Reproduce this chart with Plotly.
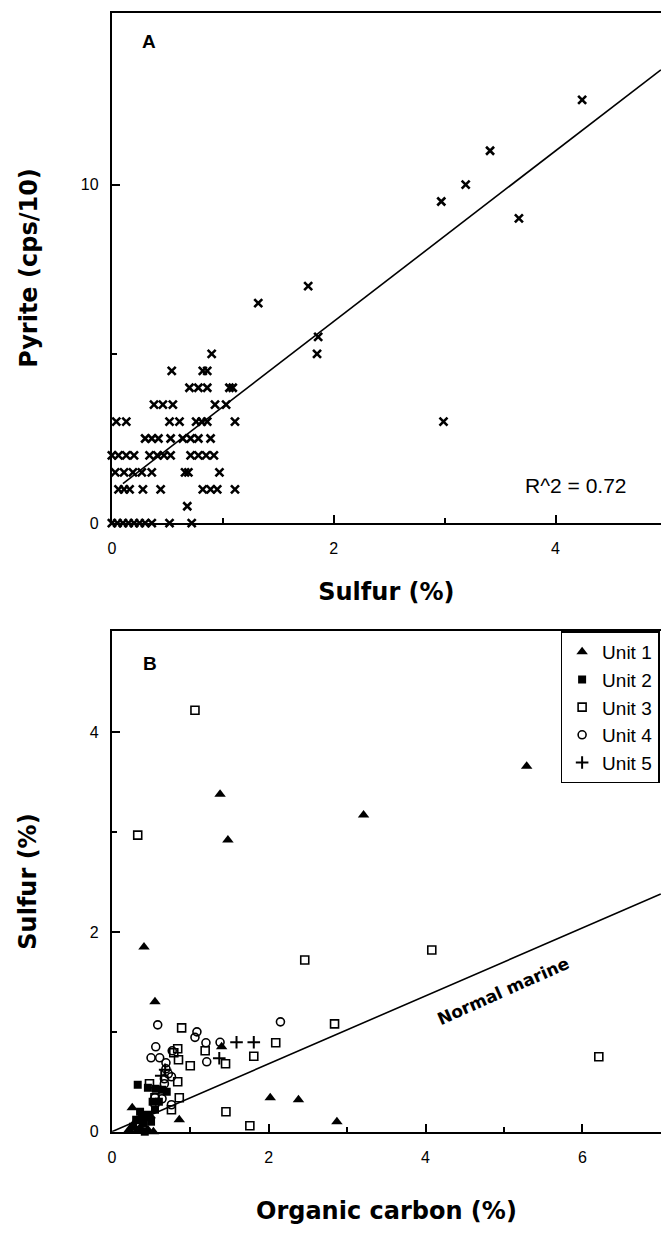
import plotly.graph_objects as go

W, H = 661, 1236
FONT = "Liberation Sans, Arial, Helvetica, sans-serif"
TITLE_FONT = "DejaVu Sans, Liberation Sans, sans-serif"

# ---------------- Panel A data: pyrite vs sulfur ----------------
sulfur_a = [4.24, 3.41, 3.19, 2.97, 3.67, 1.77, 1.32, 1.86, 1.85, 2.99,
            0.90,
            0.54, 0.82, 0.86,
            0.70, 0.78, 0.86, 1.06, 1.09,
            0.38, 0.46, 0.55, 0.93, 1.03,
            0.04, 0.13, 0.52, 0.61, 0.76, 0.81, 0.86, 1.11,
            0.30, 0.36, 0.42, 0.53, 0.64, 0.71, 0.78, 0.89,
            0.00, 0.06, 0.13, 0.20, 0.34, 0.41, 0.47, 0.53, 0.71, 0.78, 0.85, 0.92,
            0.03, 0.11, 0.19, 0.27, 0.36, 0.66, 0.69, 0.97,
            0.06, 0.11, 0.16, 0.28, 0.44, 0.82, 0.89, 0.95, 1.11,
            0.68,
            0.00, 0.05, 0.10, 0.15, 0.20, 0.25, 0.30, 0.36, 0.52, 0.72]
pyrite_a = [12.5, 11.0, 10.0, 9.5, 9.0, 7.0, 6.5, 5.5, 5.0, 3.0,
            5.0,
            4.5, 4.5, 4.5,
            4.0, 4.0, 4.0, 4.0, 4.0,
            3.5, 3.5, 3.5, 3.5, 3.5,
            3.0, 3.0, 3.0, 3.0, 3.0, 3.0, 3.0, 3.0,
            2.5, 2.5, 2.5, 2.5, 2.5, 2.5, 2.5, 2.5,
            2.0, 2.0, 2.0, 2.0, 2.0, 2.0, 2.0, 2.0, 2.0, 2.0, 2.0, 2.0,
            1.5, 1.5, 1.5, 1.5, 1.5, 1.5, 1.5, 1.5,
            1.0, 1.0, 1.0, 1.0, 1.0, 1.0, 1.0, 1.0, 1.0,
            0.5,
            0.0, 0.0, 0.0, 0.0, 0.0, 0.0, 0.0, 0.0, 0.0, 0.0]
fit_sulfur = [0.10, 4.95]
fit_pyrite = [1.17, 13.39]
r2_label = "R^2 = 0.72"

# ---------------- Panel B data: sulfur vs organic carbon ----------------
unit1_c = [0.41, 0.55, 1.38, 1.48, 3.21, 5.29, 1.40, 2.02, 2.38, 2.87, 0.86, 0.26, 0.53, 0.30, 0.36, 0.42, 0.46, 0.22, 0.49]
unit1_s = [1.85, 1.30, 3.38, 2.92, 3.17, 3.66, 0.85, 0.34, 0.32, 0.10, 0.12, 0.24, 0.00, 0.10, 0.04, 0.13, 0.02, 0.02, 0.16]

unit2_c = [0.33, 0.46, 0.56, 0.64, 0.70, 0.27, 0.31, 0.36, 0.40, 0.45, 0.50, 0.55, 0.33, 0.42, 0.60, 0.52, 0.38]
unit2_s = [0.47, 0.44, 0.43, 0.42, 0.40, 0.05, 0.12, 0.20, 0.08, 0.17, 0.10, 0.22, 0.02, 0.00, 0.30, 0.30, 0.14]

unit3_c = [1.06, 0.33, 2.46, 4.08, 2.84, 6.21, 0.89, 2.09, 1.81, 1.45, 1.19, 1.00, 0.84, 0.85, 0.48, 0.84, 0.86, 0.76, 1.455, 1.76, 0.55, 0.79]
unit3_s = [4.22, 2.97, 1.72, 1.82, 1.08, 0.75, 1.04, 0.89, 0.755, 0.68, 0.81, 0.66, 0.83, 0.72, 0.48, 0.50, 0.34, 0.22, 0.20, 0.06, 0.34, 0.79]

unit4_c = [0.585, 2.15, 1.085, 1.06, 1.20, 1.38, 1.21, 0.56, 0.50, 0.61, 0.69, 0.69, 0.77, 0.67, 0.76, 0.67, 0.55, 0.64, 0.55, 0.76, 0.72]
unit4_s = [1.07, 1.10, 1.00, 0.945, 0.89, 0.895, 0.70, 0.85, 0.74, 0.74, 0.69, 0.63, 0.81, 0.53, 0.55, 0.48, 0.34, 0.33, 0.27, 0.27, 0.58]

unit5_c = [1.59, 1.81, 1.37, 0.68, 0.63]
unit5_s = [0.895, 0.895, 0.735, 0.62, 0.56]

marine_c = [0.0, 7.0]
marine_s = [0.0, 2.38]

unit_names = ["Unit 1", "Unit 2", "Unit 3", "Unit 4", "Unit 5"]

# ---------------- layout geometry (pixels -> paper) ----------------
def px_x(p):
    return p / W

def px_y(p):
    return 1 - p / H

left_px = 108.5
a_top, a_bot = 13, 527
b_top, b_bot = 636, 1140

fig = go.Figure()

# Panel A
fig.add_trace(go.Scatter(
    x=sulfur_a, y=pyrite_a, mode="markers", xaxis="x", yaxis="y",
    marker=dict(symbol="x-thin", size=8, color="black", line=dict(width=2.6, color="black")),
    showlegend=False, cliponaxis=False))
fig.add_trace(go.Scatter(
    x=fit_sulfur, y=fit_pyrite, mode="lines", xaxis="x", yaxis="y",
    line=dict(color="black", width=1.6), showlegend=False))

# Panel B
fig.add_trace(go.Scatter(
    x=marine_c, y=marine_s, mode="lines", xaxis="x2", yaxis="y2",
    line=dict(color="black", width=1.6), showlegend=False))

styles = [
    dict(symbol="triangle-up", size=10, color="black", line=dict(width=0)),
    dict(symbol="square", size=8, color="black", line=dict(width=0)),
    dict(symbol="square-open", size=8, color="black", line=dict(width=1.6, color="black")),
    dict(symbol="circle-open", size=8, color="black", line=dict(width=1.6, color="black")),
    dict(symbol="cross-thin", size=9, color="black", line=dict(width=2, color="black")),
]
series = [(unit1_c, unit1_s), (unit2_c, unit2_s), (unit3_c, unit3_s), (unit4_c, unit4_s), (unit5_c, unit5_s)]
for name, (cx, sy), st in zip(unit_names, series, styles):
    fig.add_trace(go.Scatter(
        x=cx, y=sy, mode="markers", name=name, xaxis="x2", yaxis="y2",
        marker=st, cliponaxis=False))

axis_common = dict(
    showline=True, linecolor="black", linewidth=2,
    ticks="inside", ticklen=8, tickwidth=1.5, tickcolor="black",
    showgrid=False, zeroline=False,
    tickfont=dict(family=FONT, size=16, color="black"),
)
title_font = dict(family=TITLE_FONT, size=24, color="black", weight="bold")
minor_common = dict(ticks="inside", ticklen=5, tickwidth=1.5, tickcolor="black")

fig.update_layout(
    width=W, height=H,
    margin=dict(l=0, r=0, t=0, b=0),
    paper_bgcolor="white", plot_bgcolor="white",
    font=dict(family=FONT, color="black"),
    xaxis=dict(axis_common, domain=[px_x(left_px), 1.0], range=[0, 4.951], anchor="y",
               mirror=True, tickvals=[0, 2, 4], ticklabelstandoff=10,
               minor=dict(minor_common, tickvals=[1, 3]),
               title=dict(text="Sulfur (%)", font=title_font, standoff=27)),
    yaxis=dict(axis_common, domain=[px_y(a_bot), px_y(a_top)], range=[0, 15.07], anchor="x",
               tickvals=[0, 10], ticklabelstandoff=8,
               minor=dict(minor_common, tickvals=[5]),
               title=dict(text="Pyrite (cps/10)", font=title_font, standoff=36)),
    xaxis2=dict(axis_common, domain=[px_x(left_px), 1.0], range=[0, 7.003], anchor="y2",
                mirror=True, tickvals=[0, 2, 4, 6], ticklabelstandoff=10,
                minor=dict(minor_common, tickvals=[1, 3, 5]),
                title=dict(text="Organic carbon (%)", font=title_font, standoff=37)),
    yaxis2=dict(axis_common, domain=[px_y(b_bot), px_y(b_top)], range=[0, 5.01], anchor="x2",
                tickvals=[0, 2, 4], ticklabelstandoff=8,
                minor=dict(minor_common, tickvals=[1, 3]),
                title=dict(text="Sulfur (%)", font=title_font, standoff=46)),
    legend=dict(x=px_x(560), y=px_y(b_top), xanchor="left", yanchor="top",
                bordercolor="black", borderwidth=1.5, bgcolor="white",
                font=dict(family=FONT, size=19, color="black"),
                tracegroupgap=0, itemwidth=30),
    annotations=[
        dict(text="A", x=px_x(146), y=px_y(42), xref="paper", yref="paper", showarrow=False,
             xanchor="center", yanchor="middle",
             font=dict(family=FONT, size=19, color="black", weight="bold")),
        dict(text="B", x=px_x(147), y=px_y(668), xref="paper", yref="paper", showarrow=False,
             xanchor="center", yanchor="middle",
             font=dict(family=FONT, size=19, color="black", weight="bold")),
        dict(text=r2_label, x=px_x(575), y=px_y(489), xref="paper", yref="paper", showarrow=False,
             xanchor="center", yanchor="middle",
             font=dict(family=FONT, size=21, color="black")),
        dict(text="Normal marine", x=4.99, y=1.41, xref="x2", yref="y2", showarrow=False,
             xanchor="center", yanchor="middle",
             textangle=-24, font=dict(family=TITLE_FONT, size=17, color="black", weight="bold")),
    ],
)

fig.write_html("out.html")
